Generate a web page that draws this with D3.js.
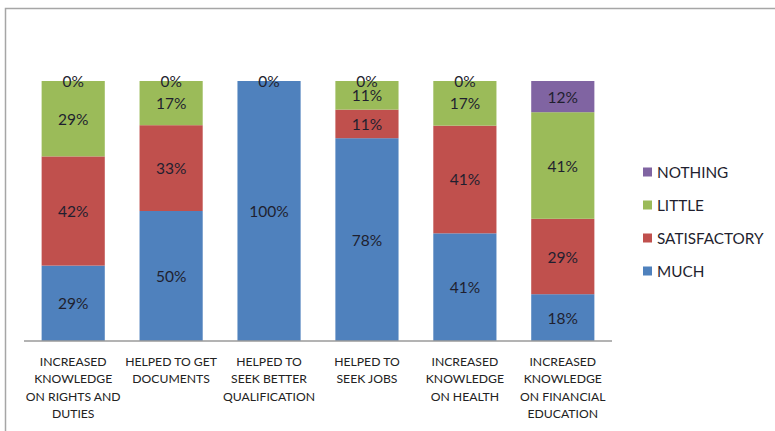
<!DOCTYPE html>
<html><head><meta charset="utf-8">
<script src="https://cdn.jsdelivr.net/npm/d3@7"></script>
<style>body{margin:0;background:#fff}svg{display:block}</style>
</head><body><svg id="c" width="775" height="431"></svg>
<script>
const categories = [
  ["INCREASED","KNOWLEDGE","ON RIGHTS AND","DUTIES"],
  ["HELPED TO GET","DOCUMENTS"],
  ["HELPED TO","SEEK BETTER","QUALIFICATION"],
  ["HELPED TO","SEEK JOBS"],
  ["INCREASED","KNOWLEDGE","ON HEALTH"],
  ["INCREASED","KNOWLEDGE","ON FINANCIAL","EDUCATION"]
];
const seriesNames = ["MUCH","SATISFACTORY","LITTLE","NOTHING"];
const much         = [29, 50, 100, 78, 41, 18];
const satisfactory = [42, 33, 0, 11, 41, 29];
const little       = [29, 17, 0, 11, 17, 41];
const nothing      = [0, 0, 0, 0, 0, 12];
const colors = ["#4F81BD","#C0504D","#9BBB59","#8064A2"];

const rows = categories.map((c,i)=>({i, MUCH:much[i], SATISFACTORY:satisfactory[i], LITTLE:little[i], NOTHING:nothing[i]}));
const stack = d3.stack().keys(seriesNames).offset(d3.stackOffsetExpand)(rows);

const svg = d3.select("#c");
const font = "Lato, 'Open Sans', sans-serif";
// outer frame
svg.append("rect").attr("x",5.5).attr("y",8.5).attr("width",800).attr("height",440)
  .attr("fill","none").attr("stroke","#a6a6a6").attr("stroke-width",1.5);

const x = d3.scaleBand().domain(d3.range(categories.length)).range([24,612]).paddingInner(0.355).paddingOuter(0.18);
const y = d3.scaleLinear().domain([0,1]).range([341,81]);

const g = svg.append("g");
stack.forEach((s,k)=>{
  g.selectAll(null).data(s).enter().append("rect")
    .attr("x",d=>x(d.data.i)).attr("width",x.bandwidth())
    .attr("y",d=>y(d[1])).attr("height",d=>y(d[0])-y(d[1]))
    .attr("fill",colors[k]);
});
// a zero label is hidden when a later series' zero label sits at the same spot
const visible = (d,k)=>{
  if (d.data[seriesNames[k]] !== 0) return true;
  for (let j=k+1;j<seriesNames.length;j++){
    if (d.data[seriesNames[j]] === 0 && Math.abs(stack[j][d.data.i][1]-d[1])<1e-9) return false;
  }
  return true;
};
stack.forEach((s,k)=>{
  g.selectAll(null).data(s.filter(d=>visible(d,k))).enter().append("text")
    .attr("x",d=>x(d.data.i)+x.bandwidth()/2)
    .attr("y",d=>y((d[0]+d[1])/2))
    .attr("text-anchor","middle").attr("dominant-baseline","central")
    .attr("font-family",font).attr("font-size",15.5).attr("fill","#1f1f2f")
    .text(d=>d.data[seriesNames[k]]+"%");
});

// axis
const ax = svg.append("g").attr("transform","translate(0,341)")
  .call(d3.axisBottom(x).tickSize(0).tickFormat(""));
ax.select(".domain").attr("stroke","#9a9a9a").attr("stroke-width",1.5).attr("d","M24,0H612");
categories.forEach((lines,i)=>{
  const t = svg.append("text").attr("x",x(i)+x.bandwidth()/2).attr("y",365.5)
    .attr("text-anchor","middle").attr("font-family",font).attr("font-size",12.2).attr("fill","#222");
  lines.forEach((l,j)=>t.append("tspan").attr("x",x(i)+x.bandwidth()/2).attr("dy",j?17.5:0).text(l));
});

// legend
const legendOrder = ["NOTHING","LITTLE","SATISFACTORY","MUCH"];
const ly = d3.scalePoint().domain(legendOrder).range([172,271]);
legendOrder.forEach(n=>{
  const k = seriesNames.indexOf(n);
  svg.append("rect").attr("x",643).attr("y",ly(n)-4.5).attr("width",9).attr("height",9).attr("fill",colors[k]);
  svg.append("text").attr("x",657).attr("y",ly(n)).attr("dominant-baseline","central")
    .attr("font-family",font).attr("font-size",15.3).attr("fill","#1f1f2f").text(n);
});
</script></body></html>
